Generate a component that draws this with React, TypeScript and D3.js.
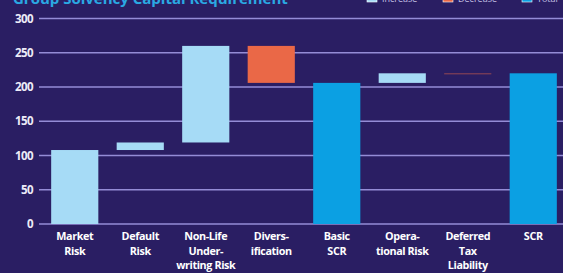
import { scaleBand, scaleLinear } from "d3";

// waterfall data
const categories = [
  ["Market", "Risk"],
  ["Default", "Risk"],
  ["Non-Life", "Under-", "writing Risk"],
  ["Divers-", "ification"],
  ["Basic", "SCR"],
  ["Opera-", "tional Risk"],
  ["Deferred", "Tax", "Liability"],
  ["SCR"],
];
// deltas for increase/decrease, running level for totals
const values = [108, 11, 141, -54, 206, 14, -1, 220];
const kinds = [
  "increase",
  "increase",
  "increase",
  "decrease",
  "total",
  "increase",
  "decrease",
  "total",
];
const yTicks = [0, 50, 100, 150, 200, 250, 300];
const legendItems = [
  { label: "Increase", kind: "increase" },
  { label: "Decrease", kind: "decrease" },
  { label: "Total", kind: "total" },
];

const W = 563;
const H = 273;
const BG = "#2a1e63";
const GRID = "#948cd6";
const colors: any = {
  increase: "#a6dbf6",
  decrease: "#ea6847",
  total: "#0ba0e3",
};

export default function App() {
  const x = scaleBand<number>()
    .domain(categories.map((_, i) => i))
    .range([42, 566])
    .paddingInner(0.28)
    .paddingOuter(0.14);

  const y = scaleLinear().domain([0, 300]).range([224, 18.5]);

  // build waterfall bars
  let level = 0;
  const bars = values.map((v, i) => {
    let from: number;
    let to: number;
    if (kinds[i] === "total") {
      from = 0;
      to = v;
      level = v;
    } else {
      from = level;
      to = level + v;
      level = to;
    }
    return { i, from, to, kind: kinds[i] };
  });

  return (
    <svg
      width={W}
      height={H}
      style={{ position: "absolute", left: 0, top: 0, background: BG }}
      fontFamily="'Open Sans', sans-serif"
    >
      <rect width={W} height={H} fill={BG} />

      {/* title, cut at top */}
      <text x={13} y={3.5} fill="#2aa9e3" fontSize={15} fontWeight={700}>
        Group Solvency Capital Requirement
      </text>

      {/* legend, cut at top */}
      {legendItems.map((d, k) => {
        const lx = [367, 443, 522][k];
        return (
          <g key={d.label}>
            <rect
              x={lx}
              y={-6}
              width={10}
              height={8}
              fill={colors[d.kind]}
              stroke="#ffffff"
              strokeWidth={0.6}
            />
            <text x={lx + 15} y={1.5} fill="#c6c2e6" fontSize={9}>
              {d.label}
            </text>
          </g>
        );
      })}

      {/* gridlines and y ticks */}
      {yTicks.map((t) => (
        <g key={t}>
          <line
            x1={39}
            x2={W}
            y1={y(t)}
            y2={y(t)}
            stroke={GRID}
            strokeWidth={1.4}
          />
          <text
            x={33}
            y={y(t)}
            dy="0.35em"
            textAnchor="end"
            fill="#ecebf7"
            fontSize={11.5}
            fontWeight={700}
            letterSpacing={-0.6}
          >
            {t}
          </text>
        </g>
      ))}

      {/* bars */}
      {bars.map((b) => {
        const top = y(Math.max(b.from, b.to));
        const h = Math.abs(y(b.from) - y(b.to));
        const thin = h < 2;
        return (
          <rect
            key={b.i}
            x={x(b.i)}
            y={top}
            width={x.bandwidth()}
            height={thin ? 1 : h}
            fill={colors[b.kind]}
            opacity={thin ? 0.55 : 1}
          />
        );
      })}

      {/* category labels */}
      {categories.map((lines, i) => (
        <text
          key={i}
          x={(x(i) as number) + x.bandwidth() / 2}
          y={240}
          textAnchor="middle"
          fill="#ffffff"
          fontSize={10.8}
          fontWeight={700}
          letterSpacing={-0.4}
        >
          {lines.map((l, j) => (
            <tspan key={j} x={(x(i) as number) + x.bandwidth() / 2} dy={j === 0 ? 0 : 14.5}>
              {l}
            </tspan>
          ))}
        </text>
      ))}
    </svg>
  );
}
